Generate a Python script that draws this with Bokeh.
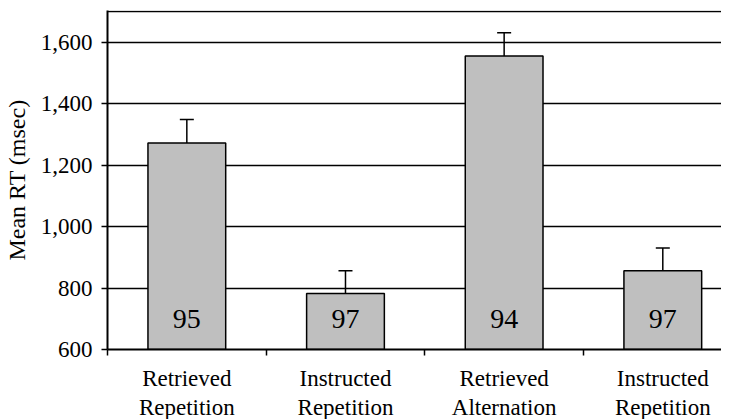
from bokeh.plotting import figure
from bokeh.models import (ColumnDataSource, Range1d, FixedTicker, NumeralTickFormatter,
                          Whisker, TeeHead, Span)
from bokeh.core.properties import value
from bokeh.embed import file_html
from bokeh.resources import INLINE

categories = ["Retrieved\nRepetition", "Instructed\nRepetition",
              "Retrieved\nAlternation", "Instructed\nRepetition"]
mean_rt = [1272, 782, 1555, 856]
error = [76, 74, 76, 74]
accuracy = ["95", "97", "94", "97"]
y_ticks = [600, 800, 1000, 1200, 1400, 1600]

FONT = "Liberation Serif"
Y_MIN, Y_MAX = 600, 1703
ACC_LABEL_Y = 700      # data-space anchor for in-bar accuracy labels

xs = [i + 0.5 for i in range(len(categories))]
source = ColumnDataSource(data=dict(
    x=xs, top=mean_rt, upper=[m + e for m, e in zip(mean_rt, error)],
    label=accuracy, label_y=[ACC_LABEL_Y] * len(xs)))

p = figure(frame_width=614, frame_height=339, output_backend="svg", toolbar_location=None,
           x_range=Range1d(0, 3.87), y_range=Range1d(Y_MIN, Y_MAX),
           min_border_left=0, min_border_right=0, min_border_top=10, min_border_bottom=0)
p.outline_line_color = None
p.background_fill_color = "white"
p.border_fill_color = "white"

p.vbar(x="x", top="top", bottom=Y_MIN, width=0.49, source=source,
       fill_color="#BFBFBF", line_color="black", line_width=1.5)

p.add_layout(Whisker(base="x", lower="top", upper="upper", source=source,
                     line_color="black", line_width=1.5, lower_head=None,
                     upper_head=TeeHead(size=14, line_color="black", line_width=1.5)))

p.text(x="x", y="label_y", text="label", source=source, text_align="center",
       text_baseline="middle", text_font=value(FONT), text_font_size="28px",
       text_color="black")

p.add_layout(Span(location=1700, dimension="width", line_color="black", line_width=1.5))

# grid
p.xgrid.visible = False
p.ygrid.grid_line_color = "black"
p.ygrid.grid_line_width = 1.5

# y axis
p.yaxis.ticker = FixedTicker(ticks=y_ticks, minor_ticks=[])
p.yaxis.formatter = NumeralTickFormatter(format="0,0")
p.yaxis.axis_label = "Mean RT (msec)"
p.yaxis.axis_label_text_font = FONT
p.yaxis.axis_label_text_font_size = "24px"
p.yaxis.axis_label_text_font_style = "normal"
p.yaxis.axis_label_text_color = "black"
p.yaxis.axis_label_standoff = 8
p.yaxis.major_label_text_font = FONT
p.yaxis.major_label_text_font_size = "23px"
p.yaxis.major_label_text_color = "black"
p.yaxis.major_label_standoff = 9
p.yaxis.major_tick_in = 0
p.yaxis.major_tick_out = 6
p.yaxis.axis_line_width = 2
p.yaxis.major_tick_line_width = 1.5

# x axis: ticks at category boundaries, labels centred under the bars
p.xaxis.ticker = FixedTicker(ticks=xs, minor_ticks=list(range(len(categories))))
p.xaxis.major_label_overrides = {x: c for x, c in zip(xs, categories)}
p.xaxis.major_label_text_font = FONT
p.xaxis.major_label_text_font_size = "23px"
p.xaxis.major_label_text_color = "black"
p.xaxis.major_label_text_line_height = 1.17
p.xaxis.major_label_standoff = 10
p.xaxis.major_tick_line_color = None
p.xaxis.minor_tick_line_color = "black"
p.xaxis.minor_tick_line_width = 1.5
p.xaxis.minor_tick_in = 0
p.xaxis.minor_tick_out = 6
p.xaxis.axis_line_width = 2

open("out.html", "w").write(file_html(p, INLINE))
